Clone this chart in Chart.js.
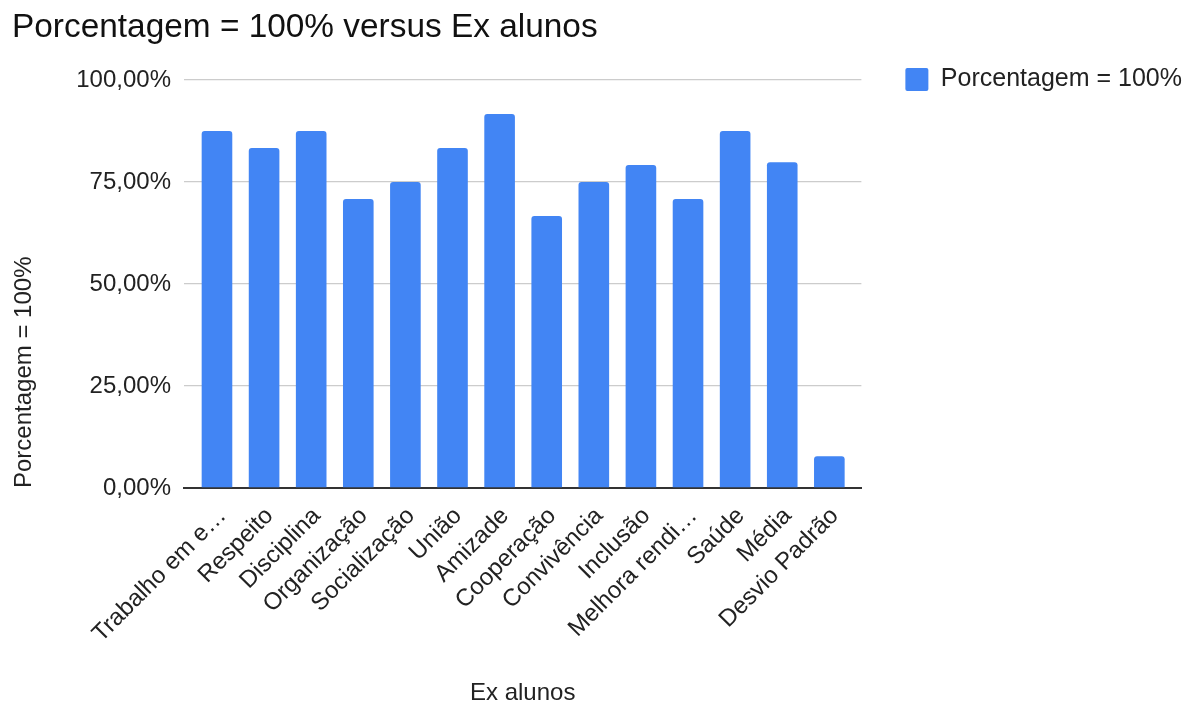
<!DOCTYPE html>
<html lang="pt-BR">
<head>
<meta charset="utf-8">
<title>Porcentagem = 100% versus Ex alunos</title>
<script src="https://cdn.jsdelivr.net/npm/chart.js@4.4.1/dist/chart.umd.min.js"></script>
<style>
  html, body { margin: 0; padding: 0; background: #fff; }
  #wrap { width: 1197px; height: 705px; position: relative; }
</style>
</head>
<body>
<div id="wrap"><canvas id="grafico"></canvas></div>
<script>
// dados
const categorias = [
  "Trabalho em e…", "Respeito", "Disciplina", "Organização", "Socialização",
  "União", "Amizade", "Cooperação", "Convivência", "Inclusão",
  "Melhora rendi…", "Saúde", "Média", "Desvio Padrão"
];
const porcentagens = [87.5, 83.33, 87.5, 70.83, 75, 83.33, 91.67, 66.67, 75, 79.17, 70.83, 87.5, 79.86, 7.77];
const ticksY = [0, 25, 50, 75, 100];
const nomeSerie = "Porcentagem = 100%";

const azul = "#4285f4";
Chart.defaults.font.family = '"Liberation Sans", Arial, sans-serif';
Chart.defaults.color = "#222";

const formatoPct = v => v.toFixed(2).replace(".", ",") + "%";

new Chart(document.getElementById("grafico"), {
  type: "bar",
  data: {
    datasets: [{
      label: nomeSerie,
      data: porcentagens.map((v, i) => ({ x: i, y: v })),
      backgroundColor: azul,
      borderWidth: 0,
      borderRadius: 3,
      barPercentage: 0.65,
      categoryPercentage: 1
    }]
  },
  options: {
    responsive: true,
    maintainAspectRatio: false,
    animation: false,
    layout: { padding: { left: 12, right: 5, top: 0, bottom: 0 } },
    plugins: {
      tooltip: { enabled: false },
      title: {
        display: true,
        text: "Porcentagem = 100% versus Ex alunos",
        align: "start",
        color: "#111",
        font: { size: 33.4, weight: "normal", lineHeight: 1.2 },
        padding: { top: 8, bottom: 32 }
      },
      legend: {
        position: "right",
        align: "start",
        fullSize: true,
        maxWidth: 600,
        title: { display: true, text: " ", font: { size: 20, lineHeight: 1.15 }, padding: 0 },
        labels: {
          boxWidth: 23,
          boxHeight: 23,
          padding: 44,
          useBorderRadius: true,
          borderRadius: 2,
          color: "#222",
          font: { size: 25 }
        }
      }
    },
    scales: {
      x: {
        type: "linear",
        min: -0.7,
        max: 13.68,
        offset: false,
        grid: { display: false, offset: false },
        border: { color: "#333", width: 2 },
        ticks: {
          stepSize: 1,
          autoSkip: false,
          includeBounds: false,
          minRotation: 45,
          maxRotation: 45,
          padding: 6,
          labelOffset: 5.5,
          font: { size: 24 },
          callback: v => categorias[v] ?? ""
        },
        title: {
          display: true,
          text: "Ex alunos",
          font: { size: 24, lineHeight: 1 },
          padding: 0
        },
        afterFit: s => { s.height = 217; }
      },
      y: {
        min: 0,
        max: 100,
        grid: { color: "#cccccc", lineWidth: 1.3, drawTicks: false },
        border: { display: false },
        ticks: {
          padding: 13,
          font: { size: 24 },
          callback: v => formatoPct(v)
        },
        afterBuildTicks: s => { s.ticks = ticksY.map(v => ({ value: v })); },
        title: {
          display: true,
          text: nomeSerie,
          align: "start",
          font: { size: 24, lineHeight: 1 },
          padding: 0
        },
        afterFit: s => { s.width = 172; }
      }
    }
  }
});
</script>
</body>
</html>
